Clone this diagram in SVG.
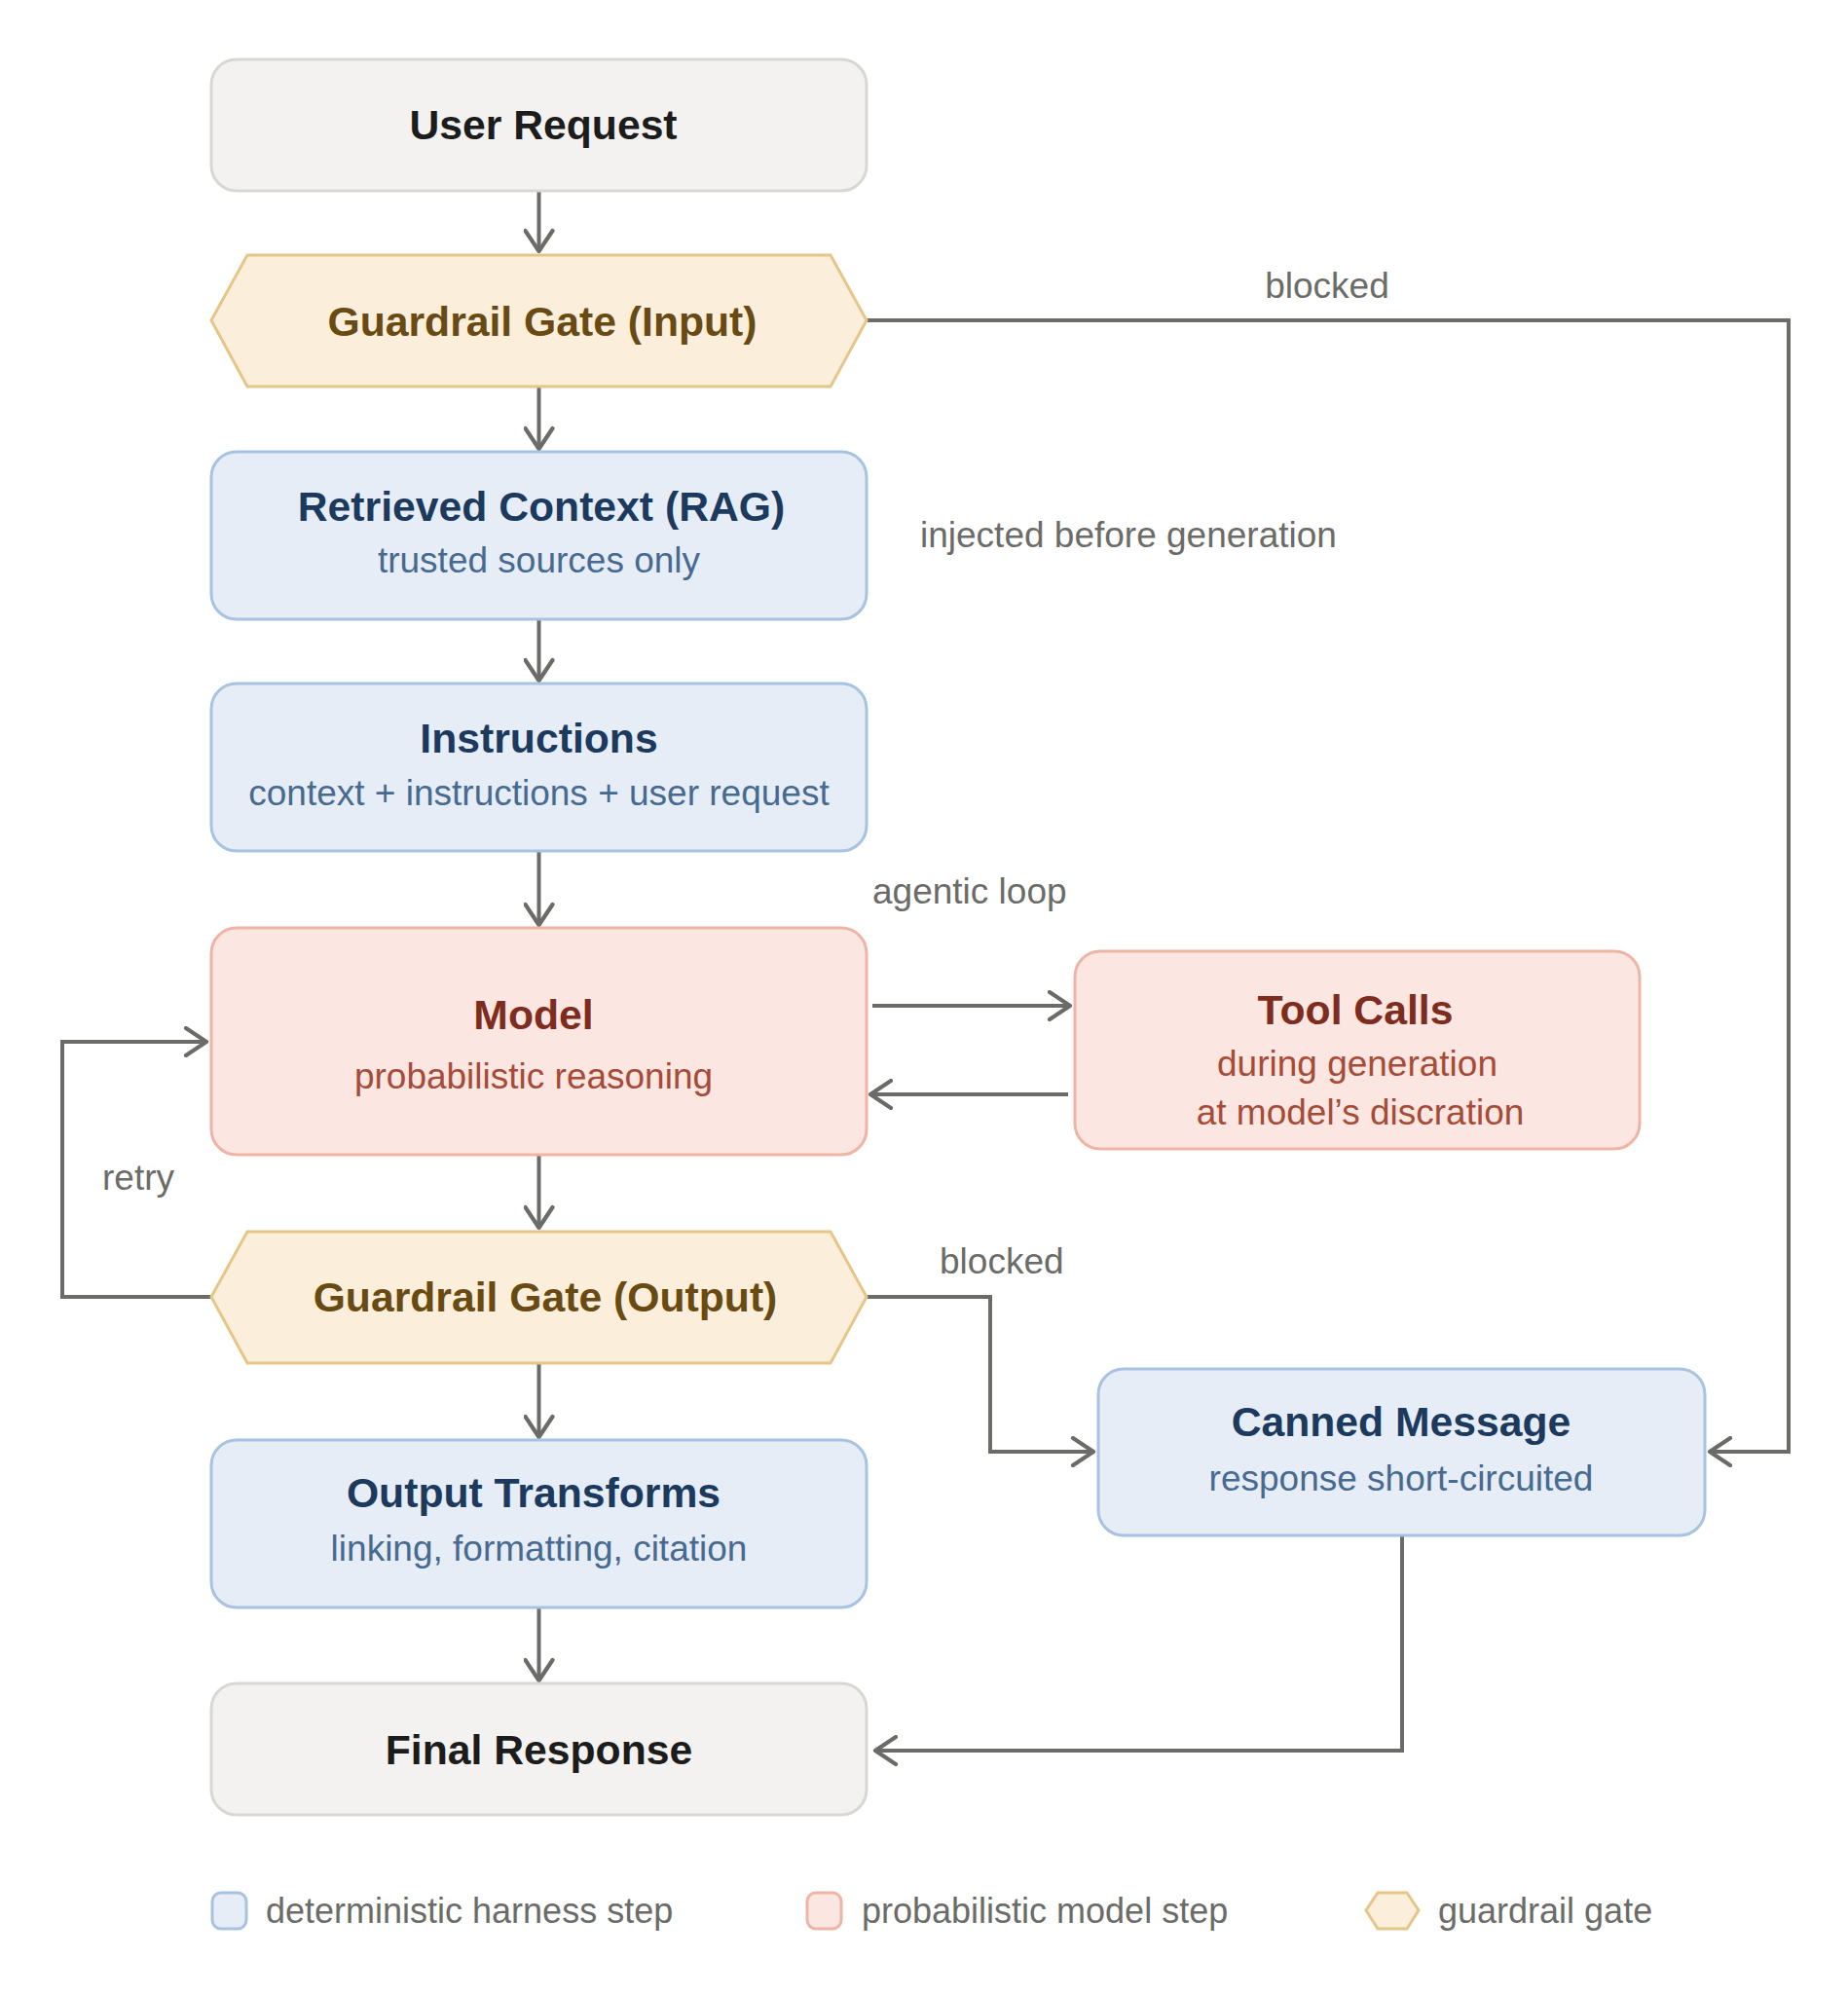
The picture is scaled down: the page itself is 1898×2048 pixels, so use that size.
<svg xmlns="http://www.w3.org/2000/svg" width="1898" height="2048" viewBox="0 0 1898 2048">
<defs>
<style>
.t{font-family:"Liberation Sans",Arial,sans-serif;text-anchor:middle}
.title{font-size:42.7px;font-weight:bold}
.sub{font-size:37px}
.lbl{font-family:"Liberation Sans",Arial,sans-serif;font-size:37px;fill:#6b6b68}
.leg{font-family:"Liberation Sans",Arial,sans-serif;font-size:36px;fill:#6b6b68}
.conn{fill:none;stroke:#6b6b68;stroke-width:4}
.neu{fill:#f3f2f0;stroke:#d8d7d3;stroke-width:3}
.gate{fill:#fbefdb;stroke:#e6c688;stroke-width:3}
.det{fill:#e6edf7;stroke:#a8c2e2;stroke-width:3}
.prob{fill:#fbe6e1;stroke:#eeb4a5;stroke-width:3}
.neuT{fill:#1c1c1c}
.gateT{fill:#6a4a13}
.detT{fill:#1b3a5e}
.detS{fill:#466a90}
.probT{fill:#7d2c1d}
.probS{fill:#a64b37}
</style>
<marker id="ah" viewBox="-24 -16 28 32" refX="0" refY="0" markerWidth="28" markerHeight="32" markerUnits="userSpaceOnUse" orient="auto">
<path d="M-21,-14 L0,0 L-21,14" fill="none" stroke="#6b6b68" stroke-width="4.2" stroke-linecap="round" stroke-linejoin="round"/>
</marker>
</defs>
<rect width="1898" height="2048" fill="#ffffff"/>

<g id="connectors">
<path class="conn" d="M553.5,196 V258" marker-end="url(#ah)"/>
<path class="conn" d="M553.5,397 V461" marker-end="url(#ah)"/>
<path class="conn" d="M553.5,636 V699" marker-end="url(#ah)"/>
<path class="conn" d="M553.5,874 V950" marker-end="url(#ah)"/>
<path class="conn" d="M896,1033 H1099" marker-end="url(#ah)"/>
<path class="conn" d="M1097,1124 H894" marker-end="url(#ah)"/>
<path class="conn" d="M553.5,1186 V1261" marker-end="url(#ah)"/>
<path class="conn" d="M553.5,1400 V1476" marker-end="url(#ah)"/>
<path class="conn" d="M553.5,1651 V1726" marker-end="url(#ah)"/>
<path class="conn" d="M217,1332 H64 V1070 H212" marker-end="url(#ah)"/>
<path class="conn" d="M890,1332 H1017 V1491 H1123" marker-end="url(#ah)"/>
<path class="conn" d="M890,329 H1837 V1491 H1756" marker-end="url(#ah)"/>
<path class="conn" d="M1440,1577 V1798 H899" marker-end="url(#ah)"/>
<text class="lbl" x="1363" y="306" text-anchor="middle">blocked</text>
<text class="lbl" x="945" y="562">injected before generation</text>
<text class="lbl" x="896" y="928">agentic loop</text>
<text class="lbl" x="105" y="1222">retry</text>
<text class="lbl" x="965" y="1308">blocked</text>
</g>

<g id="user-request">
<rect class="neu" x="217" y="61" width="673" height="135" rx="26"/>
<text class="t title neuT" x="558" y="143">User Request</text>
</g>

<g id="gate-input">
<polygon class="gate" points="217,329 254,262 853,262 890,329 853,397 254,397"/>
<text class="t title gateT" x="557" y="345">Guardrail Gate (Input)</text>
</g>

<g id="retrieved-context">
<rect class="det" x="217" y="464" width="673" height="172" rx="26"/>
<text class="t title detT" x="556" y="535">Retrieved Context (RAG)</text>
<text class="t sub detS" x="553.5" y="588">trusted sources only</text>
</g>

<g id="instructions">
<rect class="det" x="217" y="702" width="673" height="172" rx="26"/>
<text class="t title detT" x="553.5" y="773">Instructions</text>
<text class="t sub detS" x="553.5" y="827">context + instructions + user request</text>
</g>

<g id="model">
<rect class="prob" x="217" y="953" width="673" height="233" rx="26"/>
<text class="t title probT" x="548" y="1057">Model</text>
<text class="t sub probS" x="548" y="1118">probabilistic reasoning</text>
</g>

<g id="tool-calls">
<rect class="prob" x="1104" y="977" width="580" height="203" rx="26"/>
<text class="t title probT" x="1392" y="1052">Tool Calls</text>
<text class="t sub probS" x="1394" y="1105">during generation</text>
<text class="t sub probS" x="1397" y="1155">at model’s discration</text>
</g>

<g id="gate-output">
<polygon class="gate" points="217,1332 254,1265 853,1265 890,1332 853,1400 254,1400"/>
<text class="t title gateT" x="560" y="1347">Guardrail Gate (Output)</text>
</g>

<g id="output-transforms">
<rect class="det" x="217" y="1479" width="673" height="172" rx="26"/>
<text class="t title detT" x="548" y="1548">Output Transforms</text>
<text class="t sub detS" x="553.5" y="1603">linking, formatting, citation</text>
</g>

<g id="canned-message">
<rect class="det" x="1128" y="1406" width="623" height="171" rx="26"/>
<text class="t title detT" x="1439" y="1475">Canned Message</text>
<text class="t sub detS" x="1439" y="1531">response short-circuited</text>
</g>

<g id="final-response">
<rect class="neu" x="217" y="1729" width="673" height="135" rx="26"/>
<text class="t title neuT" x="553.5" y="1812">Final Response</text>
</g>

<g id="legend">
<rect class="det" x="218" y="1944" width="35" height="37" rx="9"/>
<text class="leg" x="273" y="1975">deterministic harness step</text>
<rect class="prob" x="829" y="1944" width="35" height="37" rx="9"/>
<text class="leg" x="885" y="1975">probabilistic model step</text>
<polygon class="gate" points="1403,1962 1415,1944 1445,1944 1457,1962 1445,1981 1415,1981"/>
<text class="leg" x="1477" y="1975">guardrail gate</text>
</g>
</svg>
